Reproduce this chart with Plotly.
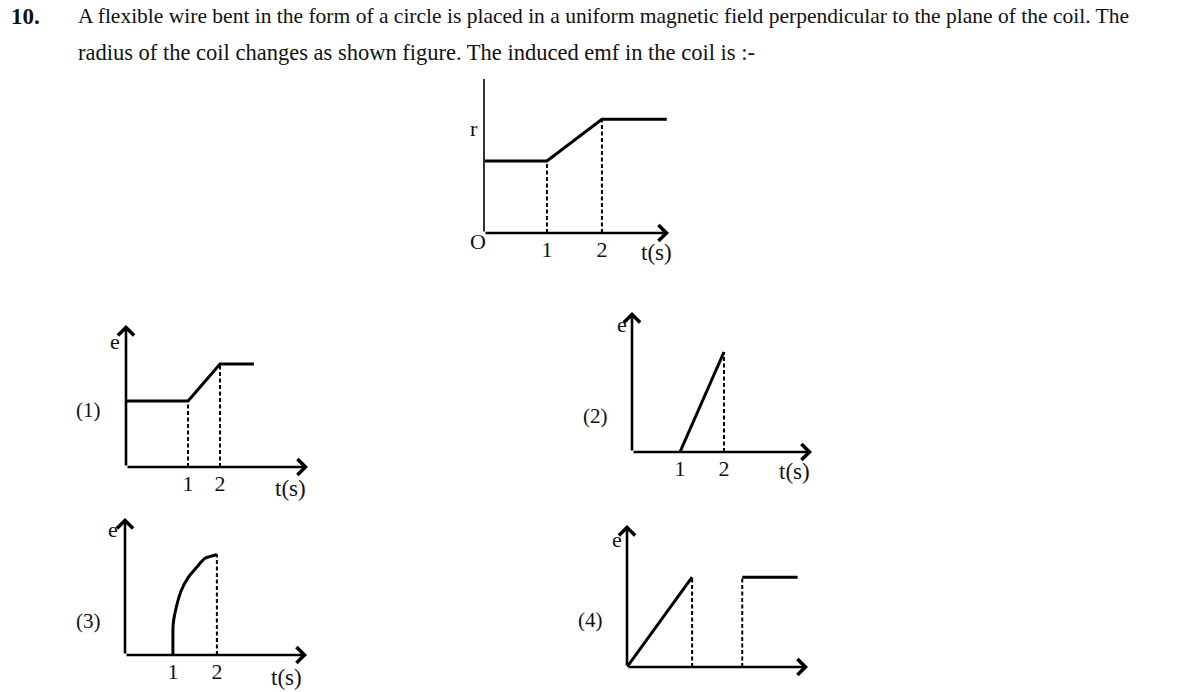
import plotly.graph_objects as go

W, H = 1184, 692
FONT = "Liberation Serif"
INK = "#111111"

# ---------------- data ----------------
# Main graph: radius r vs t
r_t = [-0.145, 1, 2, 3.18]
r_val = [1.0, 1.0, 1.58, 1.58]
r_drop_t = [1, 2]
r_drop_val = [1.0, 1.58]

# Option (1)
o1_t = [-0.94, 1, 2, 3.06]
o1_e = [1.0, 1.0, 1.56, 1.56]
o1_drop_t = [1, 2]
o1_drop_e = [1.0, 1.56]

# Option (2)
o2_t = [1, 2]
o2_e = [0.0, 1.0]
o2_drop_t = [2]
o2_drop_e = [1.0]

# Option (3)
o3_t = [1.0, 1.0, 1.007, 1.08, 1.19, 1.35, 1.54, 1.73, 1.95, 2.0]
o3_e = [0.0, 0.15, 0.31, 0.48, 0.64, 0.77, 0.87, 0.96, 0.99, 1.0]
o3_drop_t = [2]
o3_drop_e = [1.0]

# Option (4)
o4_ramp_t = [0, 1]
o4_ramp_e = [0, 1.0]
o4_step_t = [1.77, 2.62]
o4_step_e = [1.0, 1.0]
o4_drop_t = [1, 1.77]
o4_drop_e = [1.0, 1.0]

tick_vals = [1, 2]
tick_text = ["1", "2"]

question_no = "10."
question_line1 = ("A flexible wire bent in the form of a circle is placed in a uniform magnetic field "
                  "perpendicular to the plane of the coil. The")
question_line2 = "radius of the coil changes as shown figure. The induced emf in the coil is :-"

# ---------------- layout helpers ----------------
def xdom(p0, p1):
    return [p0 / W, p1 / W]

def ydom(pb, pt):
    return [1 - pb / H, 1 - pt / H]

def px(x):
    return x / W

def py(y):
    return 1 - y / H

panels = [
    # name, x-domain px, y-domain px (bottom, top), x-range, y-range, ticks?
    ("", (484, 669), (233, 79), [-0.145, 3.22], [0, 2.14], True),
    ("2", (126, 308), (467, 325), [-0.94, 4.75], [0, 2.15], True),
    ("3", (632, 812), (452, 312), [-0.09, 4.0], [0, 1.4], True),
    ("4", (125, 307), (655, 518), [-0.09, 4.05], [0, 1.36], True),
    ("5", (627, 808), (667, 525), [0, 2.78], [0, 1.58], False),
]

fig = go.Figure()

def solid(t, v, k):
    fig.add_trace(go.Scatter(x=t, y=v, mode="lines", xaxis="x" + k, yaxis="y" + k,
                             line=dict(color="#000000", width=3), hoverinfo="skip",
                             showlegend=False))

def curve(t, v, k):
    fig.add_trace(go.Scatter(x=t, y=v, mode="lines", xaxis="x" + k, yaxis="y" + k,
                             line=dict(color="#000000", width=3, shape="spline", smoothing=0.8),
                             hoverinfo="skip", showlegend=False))

def drops(ts, vs, k):
    for t, v in zip(ts, vs):
        fig.add_trace(go.Scatter(x=[t, t], y=[0, v], mode="lines", xaxis="x" + k, yaxis="y" + k,
                                 line=dict(color="#000000", width=2, dash="4px,2.5px"),
                                 hoverinfo="skip", showlegend=False))

# main graph
drops(r_drop_t, r_drop_val, "")
solid(r_t, r_val, "")
# option 1
drops(o1_drop_t, o1_drop_e, "2")
solid(o1_t, o1_e, "2")
# option 2
drops(o2_drop_t, o2_drop_e, "3")
solid(o2_t, o2_e, "3")
# option 3
drops(o3_drop_t, o3_drop_e, "4")
curve(o3_t, o3_e, "4")
# option 4
drops(o4_drop_t, o4_drop_e, "5")
solid(o4_ramp_t, o4_ramp_e, "5")
solid(o4_step_t, o4_step_e, "5")

annotations = []
layout_axes = {}
for k, xd, yd, xr, yr, ticks in panels:
    xa = "xaxis" + k
    ya = "yaxis" + k
    layout_axes[xa] = dict(domain=xdom(*xd), range=xr, anchor="y" + k, showgrid=False,
                           zeroline=False, showline=False, ticks="",
                           tickvals=tick_vals if ticks else [], ticktext=tick_text if ticks else [],
                           tickfont=dict(family=FONT, size=22, color=INK),
                           ticklabelstandoff=1, fixedrange=True)
    layout_axes[ya] = dict(domain=ydom(*yd), range=yr, anchor="x" + k, showgrid=False,
                           zeroline=False, showline=False, showticklabels=False, ticks="",
                           fixedrange=True)
    xref = "x" + k
    yref = "y" + k
    # horizontal axis with arrow
    annotations.append(dict(x=xr[1], y=0, ax=xr[0], ay=0, xref=xref, yref=yref,
                            axref=xref, ayref=yref, text="", showarrow=True,
                            arrowhead=4, arrowsize=1.2, arrowwidth=2.6, arrowcolor="#000000",
                            standoff=0, startstandoff=0))
    # vertical axis
    if k == "":
        annotations.append(dict(x=xr[0], y=yr[1], ax=xr[0], ay=0, xref=xref, yref=yref,
                                axref=xref, ayref=yref, text="", showarrow=True,
                                arrowhead=0, arrowwidth=2, arrowcolor="#333333",
                                standoff=0, startstandoff=0))
    else:
        annotations.append(dict(x=xr[0], y=yr[1], ax=xr[0], ay=0, xref=xref, yref=yref,
                                axref=xref, ayref=yref, text="", showarrow=True,
                                arrowhead=4, arrowsize=1.2, arrowwidth=2.6, arrowcolor="#000000",
                                standoff=0, startstandoff=0))

def label(text, x, y, size=22, anchor="center", bold=False):
    annotations.append(dict(text=("<b>%s</b>" % text) if bold else text, x=px(x), y=py(y),
                            xref="paper", yref="paper", showarrow=False,
                            xanchor=anchor, yanchor="middle",
                            font=dict(family=FONT, size=size, color=INK)))

# question text
label(question_no, 9, 17, size=23, anchor="left", bold=True)
label(question_line1, 76, 16, size=21.5, anchor="left")
label(question_line2, 76, 52, size=22.5, anchor="left")

# main graph labels
label("r", 474, 128)
label("O", 478, 241)
label("t(s)", 656, 252, size=23)
# option labels
label("e", 115, 341)
label("(1)", 88, 410, size=21)
label("t(s)", 290, 488, size=23)
label("e", 622, 324)
label("(2)", 595, 416, size=21)
label("t(s)", 794, 471, size=23)
label("e", 113, 529)
label("(3)", 88, 621, size=21)
label("t(s)", 286, 677, size=23)
label("e", 617, 539)
label("(4)", 590, 620, size=21)

fig.update_layout(width=W, height=H, margin=dict(l=0, r=0, t=0, b=0),
                  paper_bgcolor="white", plot_bgcolor="white",
                  annotations=annotations, showlegend=False, **layout_axes)

fig.write_html("out.html", config={"displayModeBar": False},
               post_script="document.body.style.margin='0px';document.body.style.overflow='hidden';")
